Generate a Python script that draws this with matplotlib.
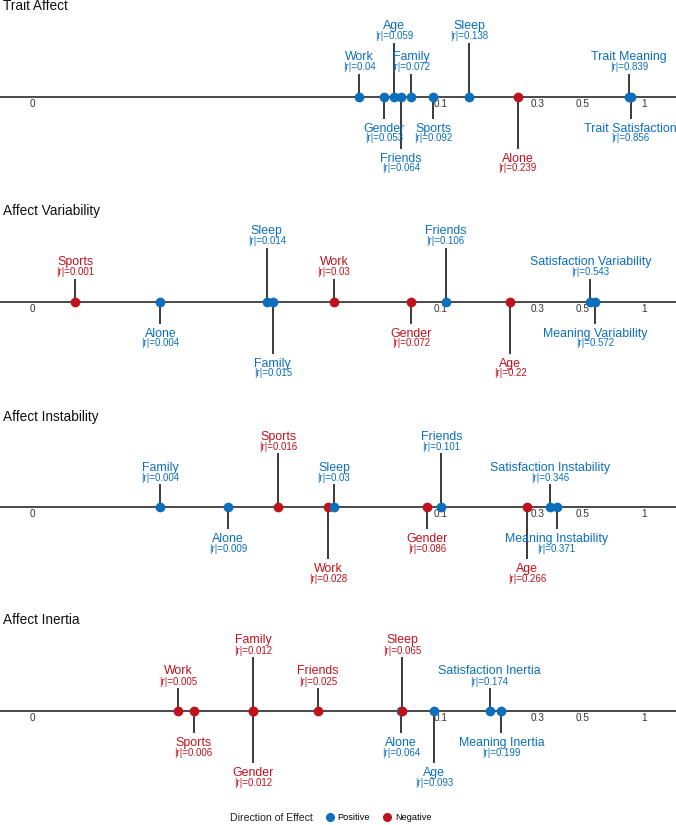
import numpy as np
import matplotlib
matplotlib.use("Agg")
import matplotlib.pyplot as plt
from matplotlib.lines import Line2D

plt.rcParams["font.family"] = ["Liberation Sans", "DejaVu Sans"]

# data (names, |r| and sign of effect)
panels = ["Trait Affect", "Affect Variability", "Affect Instability", "Affect Inertia"]

affect_names = ["Work", "Gender", "Age", "Friends", "Family", "Sports", "Sleep", "Alone",
                "Trait Meaning", "Trait Satisfaction"]
affect_r = [0.04, 0.053, 0.059, 0.064, 0.072, 0.092, 0.138, 0.239, 0.839, 0.856]
affect_pos = [1, 1, 1, 1, 1, 1, 1, 0, 1, 1]

variab_names = ["Sports", "Alone", "Sleep", "Family", "Work", "Gender", "Friends", "Age",
                "Satisfaction Variability", "Meaning Variability"]
variab_r = [0.001, 0.004, 0.014, 0.015, 0.03, 0.072, 0.106, 0.22, 0.543, 0.572]
variab_pos = [0, 1, 1, 1, 0, 0, 1, 0, 1, 1]

instab_names = ["Family", "Alone", "Sports", "Work", "Sleep", "Gender", "Friends", "Age",
                "Satisfaction Instability", "Meaning Instability"]
instab_r = [0.004, 0.009, 0.016, 0.028, 0.03, 0.086, 0.101, 0.266, 0.346, 0.371]
instab_pos = [1, 1, 0, 0, 1, 0, 1, 0, 1, 1]

inertia_names = ["Work", "Sports", "Family", "Gender", "Friends", "Alone", "Sleep", "Age",
                 "Satisfaction Inertia", "Meaning Inertia"]
inertia_r = [0.005, 0.006, 0.012, 0.012, 0.025, 0.064, 0.065, 0.093, 0.174, 0.199]
inertia_pos = [0, 0, 0, 0, 0, 1, 0, 1, 1, 1]

tick_vals = [0, 0.1, 0.3, 0.5, 1]
tick_labels = ["0", "0.1", "0.3", "0.5", "1"]

all_names = [affect_names, variab_names, instab_names, inertia_names]
all_r = [affect_r, variab_r, instab_r, inertia_r]
all_pos = [affect_pos, variab_pos, instab_pos, inertia_pos]

BLUE = "#0B6FBE"
RED = "#C0121B"
GREY = "#3a3a3a"

# pseudo-log scale (sigma = 0.001)
SIG = 0.001
fwd = lambda x: np.arcsinh(np.asarray(x) / (2 * SIG))
inv = lambda t: 2 * SIG * np.sinh(np.asarray(t))

W, H = 676, 825
fig = plt.figure(figsize=(W / 100, H / 100), dpi=100)

# pixel mapping: 0 -> 32.5 px, 1 -> 644.5 px
x0, x1 = 32.5, 644.5
ppu = (x1 - x0) / fwd(1.0)
xlim = (inv(-x0 / ppu), inv((W - x0) / ppu))

line_y = [96.7, 301.7, 507, 711]
panel_h = 205

for k in range(4):
    top = line_y[k] - 96
    bot = top + panel_h
    ax = fig.add_axes([0, 1 - bot / H, 1, panel_h / H])
    ax.set_xscale("function", functions=(fwd, inv))
    ax.set_xlim(*xlim)
    ax.set_ylim(bot, top)
    ax.axis("off")
    ly = line_y[k]
    ax.axhline(ly, color=GREY, lw=1.3, zorder=1)

    fig.text(3 / W, 1 - (ly - 90.5) / H, panels[k], fontsize=9.8, color="#111111",
             ha="left", va="center")
    for tv, tl in zip(tick_vals, tick_labels):
        ax.text(tv, ly + 7.3, tl, fontsize=7.2, color="#333333", ha="center", va="center")

    names, rs, pos = all_names[k], all_r[k], all_pos[k]
    for i, (nm, r, p) in enumerate(zip(names, rs, pos)):
        col = BLUE if p else RED
        up = (i % 2 == 0)
        longstem = (i // 2) % 2 == 1
        if up:
            end = ly - (53 if longstem else 22)
            ax.plot([r, r], [ly, end], color=GREY, lw=1.4, zorder=2)
            ax.text(r, end - 7.3, "|r|=" + format(r, "g"), fontsize=7, color=col,
                    ha="center", va="center")
            ax.text(r, end - 17.5, nm, fontsize=8.9, color=col, ha="center", va="center")
        else:
            end = ly + (51 if longstem else 21)
            ax.plot([r, r], [ly, end], color=GREY, lw=1.4, zorder=2)
            ax.text(r, end + 11, nm, fontsize=8.9, color=col, ha="center", va="center")
            ax.text(r, end + 20.5, "|r|=" + format(r, "g"), fontsize=7, color=col,
                    ha="center", va="center")
    for r, p in zip(rs, pos):
        ax.plot(r, ly, "o", ms=6, color=BLUE if p else RED, zorder=3)

# legend
fig.text(230 / W, 1 - 818 / H, "Direction of Effect", fontsize=7.6, color="#222222",
         ha="left", va="center")
handles = [Line2D([], [], ls="", marker="o", ms=5.5, color=BLUE, label="Positive"),
           Line2D([], [], ls="", marker="o", ms=5.5, color=RED, label="Negative")]
fig.legend(handles=handles, loc="center left", bbox_to_anchor=(324 / W, 1 - 818 / H),
           ncol=2, frameon=False, fontsize=6.6, handletextpad=0.3, columnspacing=1.2,
           handlelength=1.2, borderaxespad=0, borderpad=0)

fig.savefig("out.png", dpi=100)
